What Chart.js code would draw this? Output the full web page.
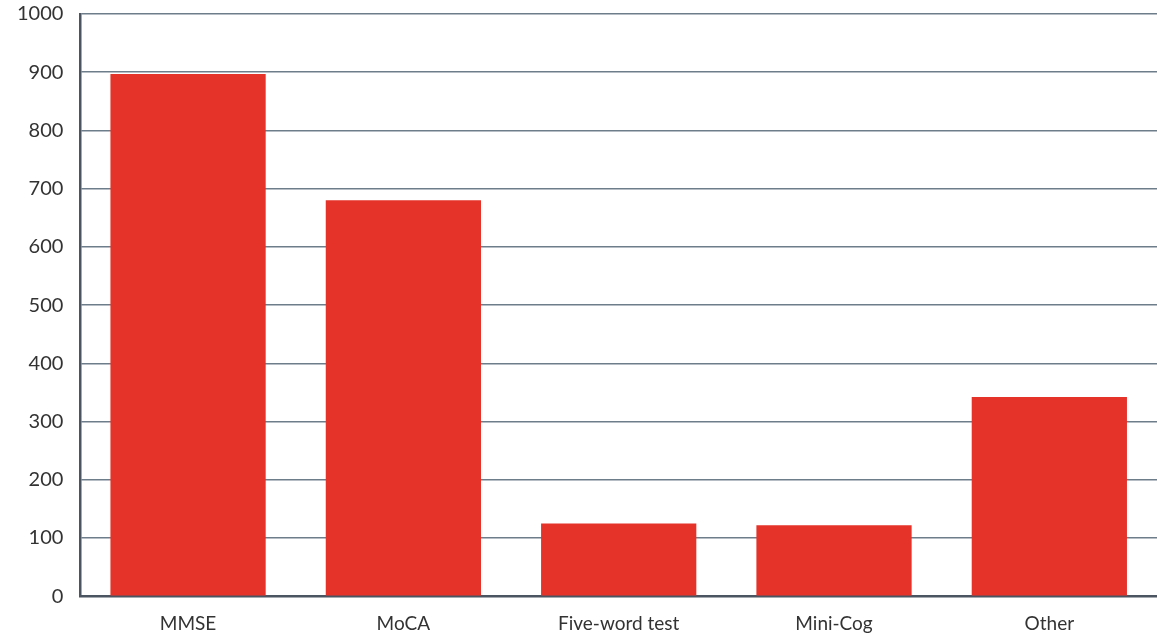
<!DOCTYPE html>
<html><head><meta charset="utf-8">
<script src="https://cdn.jsdelivr.net/npm/chart.js@4.4.1/dist/chart.umd.min.js"></script>
<style>html,body{margin:0;padding:0;background:#fff;}canvas{display:block;}</style>
</head><body>
<canvas id="c" width="1157" height="637"></canvas>
<script>
const categories = ["MMSE", "MoCA", "Five-word test", "Mini-Cog", "Other"];
const values = [897, 680, 125, 122, 342];
const yTicks = [0, 100, 200, 300, 400, 500, 600, 700, 800, 900, 1000];

new Chart(document.getElementById('c'), {
  type: 'bar',
  data: {
    labels: categories,
    datasets: [{ data: values, backgroundColor: '#e5332a', borderWidth: 0, categoryPercentage: 1, barPercentage: 0.721 }]
  },
  options: {
    responsive: false,
    animation: false,
    layout: { padding: { top: 14, right: 0, left: 0, bottom: -14 } },
    plugins: { legend: { display: false }, tooltip: { enabled: false } },
    scales: {
      x: {
        afterFit: (s) => { s.paddingRight = 0; },
        grid: { display: false, drawTicks: false },
        border: { display: true, color: '#4a5561', width: 2.5 },
        ticks: { color: '#333', font: { family: 'Lato', size: 19 }, padding: 16 }
      },
      y: {
        min: 0, max: 1000,
        afterBuildTicks: (s) => { s.ticks = yTicks.map(v => ({ value: v })); },
        afterFit: (s) => { s.paddingTop = 0; },
        grid: { color: '#6e7d8a', lineWidth: 1.5, drawTicks: false },
        border: { display: true, color: '#4a5561', width: 2.5 },
        ticks: { color: '#333', font: { family: 'Lato', size: 20 }, padding: 17, callback: (v) => String(v) }
      }
    }
  }
});
</script>
</body></html>
